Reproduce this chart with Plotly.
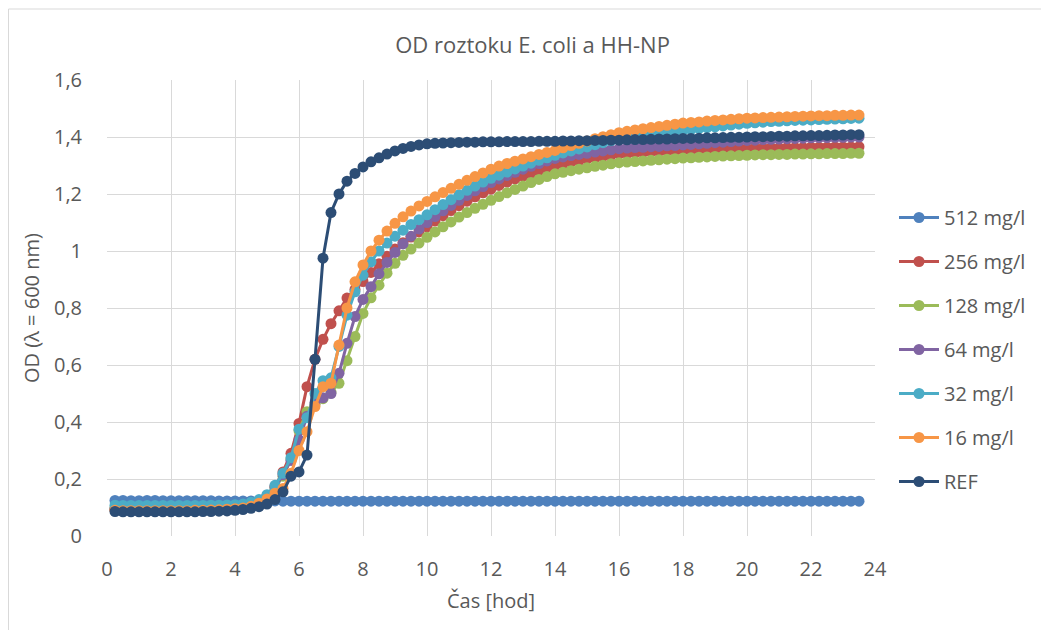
import plotly.graph_objects as go

time_h = [0.25, 0.5, 0.75, 1.0, 1.25, 1.5, 1.75, 2.0, 2.25, 2.5, 2.75, 3.0, 3.25, 3.5, 3.75, 4.0,
          4.25, 4.5, 4.75, 5.0, 5.25, 5.5, 5.75, 6.0, 6.25, 6.5, 6.75, 7.0, 7.25, 7.5, 7.75, 8.0,
          8.25, 8.5, 8.75, 9.0, 9.25, 9.5, 9.75, 10.0, 10.25, 10.5, 10.75, 11.0, 11.25, 11.5, 11.75, 12.0,
          12.25, 12.5, 12.75, 13.0, 13.25, 13.5, 13.75, 14.0, 14.25, 14.5, 14.75, 15.0, 15.25, 15.5, 15.75, 16.0,
          16.25, 16.5, 16.75, 17.0, 17.25, 17.5, 17.75, 18.0, 18.25, 18.5, 18.75, 19.0, 19.25, 19.5, 19.75, 20.0,
          20.25, 20.5, 20.75, 21.0, 21.25, 21.5, 21.75, 22.0, 22.25, 22.5, 22.75, 23.0, 23.25, 23.5]

od_512 = [0.125, 0.125, 0.124, 0.124, 0.125, 0.125, 0.124, 0.124, 0.124, 0.124, 0.124, 0.124, 0.124, 0.123, 0.123, 0.123,
          0.123, 0.123, 0.123, 0.123, 0.123, 0.122, 0.122, 0.122, 0.122, 0.122, 0.122, 0.122, 0.122, 0.122, 0.122, 0.122,
          0.122, 0.122, 0.122, 0.122, 0.122, 0.122, 0.122, 0.122, 0.122, 0.122, 0.122, 0.122, 0.122, 0.122, 0.122, 0.122,
          0.122, 0.122, 0.122, 0.122, 0.122, 0.122, 0.122, 0.122, 0.122, 0.122, 0.122, 0.122, 0.122, 0.122, 0.122, 0.122,
          0.122, 0.122, 0.122, 0.122, 0.122, 0.122, 0.122, 0.122, 0.122, 0.122, 0.122, 0.122, 0.122, 0.122, 0.122, 0.122,
          0.122, 0.122, 0.122, 0.122, 0.122, 0.122, 0.122, 0.122, 0.122, 0.122, 0.122, 0.122, 0.122, 0.122]

od_256 = [0.093, 0.092, 0.092, 0.092, 0.092, 0.092, 0.092, 0.092, 0.092, 0.092, 0.093, 0.093, 0.094, 0.095, 0.096, 0.098,
          0.100, 0.108, 0.122, 0.142, 0.175, 0.225, 0.290, 0.395,
          0.524, 0.620, 0.690, 0.745, 0.790, 0.835, 0.865, 0.893,
          0.925, 0.955, 0.982, 1.007, 1.029, 1.049, 1.067, 1.085,
          1.105, 1.124, 1.142, 1.159, 1.175, 1.190, 1.204, 1.217,
          1.230, 1.242, 1.253, 1.263, 1.273, 1.283, 1.292, 1.300,
          1.306, 1.312, 1.317, 1.322, 1.327, 1.332, 1.336, 1.340,
          1.342, 1.344, 1.346, 1.348, 1.350, 1.351, 1.352, 1.354,
          1.355, 1.356, 1.357, 1.358, 1.358, 1.359, 1.360, 1.360,
          1.361, 1.361, 1.362, 1.362, 1.363, 1.363, 1.363, 1.364,
          1.364, 1.364, 1.365, 1.365, 1.365, 1.366]

od_128 = [0.098, 0.097, 0.097, 0.097, 0.097, 0.097, 0.097, 0.097, 0.097, 0.097, 0.098, 0.098, 0.099, 0.100, 0.101, 0.103,
          0.105, 0.111, 0.122, 0.140, 0.168, 0.210, 0.270, 0.370,
          0.436, 0.462, 0.482, 0.505, 0.536, 0.615, 0.700, 0.781,
          0.836, 0.880, 0.922, 0.957, 0.985, 1.007, 1.028, 1.048,
          1.067, 1.085, 1.102, 1.119, 1.135, 1.150, 1.164, 1.178,
          1.191, 1.204, 1.216, 1.228, 1.240, 1.251, 1.261, 1.271,
          1.276, 1.282, 1.287, 1.292, 1.297, 1.301, 1.306, 1.310,
          1.312, 1.314, 1.316, 1.318, 1.320, 1.322, 1.324, 1.326,
          1.327, 1.329, 1.330, 1.332, 1.333, 1.334, 1.335, 1.336,
          1.337, 1.338, 1.338, 1.339, 1.339, 1.340, 1.340, 1.341,
          1.341, 1.342, 1.342, 1.342, 1.343, 1.343]

od_64 = [0.096, 0.095, 0.095, 0.095, 0.095, 0.095, 0.095, 0.095, 0.095, 0.095, 0.096, 0.096, 0.097, 0.098, 0.099, 0.101,
         0.103, 0.110, 0.122, 0.140, 0.170, 0.215, 0.265, 0.337,
         0.420, 0.468, 0.485, 0.500, 0.571, 0.676, 0.770, 0.830,
         0.875, 0.920, 0.960, 0.995, 1.025, 1.052, 1.077, 1.100,
         1.121, 1.141, 1.160, 1.178, 1.195, 1.211, 1.226, 1.240,
         1.253, 1.265, 1.276, 1.287, 1.297, 1.307, 1.316, 1.325,
         1.330, 1.335, 1.339, 1.343, 1.347, 1.351, 1.355, 1.359,
         1.361, 1.363, 1.364, 1.366, 1.367, 1.369, 1.370, 1.372,
         1.374, 1.376, 1.378, 1.380, 1.382, 1.384, 1.386, 1.388,
         1.389, 1.391, 1.392, 1.393, 1.394, 1.395, 1.396, 1.397,
         1.398, 1.398, 1.399, 1.399, 1.400, 1.400]

od_32 = [0.108, 0.107, 0.107, 0.107, 0.107, 0.107, 0.107, 0.107, 0.107, 0.107, 0.107, 0.107, 0.108, 0.108, 0.109, 0.110,
         0.112, 0.118, 0.128, 0.145, 0.178, 0.220, 0.275, 0.375,
         0.415, 0.500, 0.545, 0.555, 0.665, 0.775, 0.857, 0.915,
         0.962, 1.000, 1.028, 1.052, 1.073, 1.093, 1.110, 1.127,
         1.145, 1.163, 1.180, 1.197, 1.213, 1.228, 1.242, 1.255,
         1.266, 1.277, 1.288, 1.298, 1.308, 1.318, 1.327, 1.336,
         1.344, 1.351, 1.358, 1.365, 1.373, 1.380, 1.387, 1.394,
         1.399, 1.403, 1.407, 1.411, 1.414, 1.418, 1.421, 1.424,
         1.427, 1.430, 1.433, 1.436, 1.439, 1.442, 1.445, 1.448,
         1.450, 1.452, 1.454, 1.455, 1.457, 1.458, 1.459, 1.460,
         1.461, 1.462, 1.463, 1.464, 1.465, 1.466]

od_16 = [0.090, 0.089, 0.089, 0.089, 0.089, 0.089, 0.089, 0.089, 0.089, 0.089, 0.090, 0.090, 0.091, 0.092, 0.094, 0.096,
         0.098, 0.104, 0.115, 0.130, 0.150, 0.167, 0.220, 0.300,
         0.366, 0.454, 0.524, 0.536, 0.670, 0.800, 0.892, 0.951,
         1.000, 1.038, 1.070, 1.097, 1.120, 1.140, 1.158, 1.174,
         1.190, 1.205, 1.220, 1.234, 1.248, 1.261, 1.274, 1.287,
         1.298, 1.307, 1.315, 1.323, 1.331, 1.339, 1.346, 1.353,
         1.362, 1.370, 1.378, 1.386, 1.394, 1.401, 1.408, 1.415,
         1.420, 1.425, 1.429, 1.433, 1.437, 1.441, 1.445, 1.449,
         1.451, 1.453, 1.456, 1.458, 1.460, 1.462, 1.464, 1.466,
         1.467, 1.468, 1.469, 1.470, 1.471, 1.472, 1.473, 1.474,
         1.475, 1.475, 1.476, 1.476, 1.477, 1.477]

od_ref = [0.086, 0.085, 0.085, 0.085, 0.085, 0.085, 0.085, 0.085, 0.085, 0.085, 0.085, 0.086, 0.086, 0.087, 0.088, 0.090,
          0.093, 0.097, 0.103, 0.112, 0.128, 0.155, 0.210, 0.225,
          0.284, 0.620, 0.975, 1.135, 1.200, 1.245, 1.272, 1.295,
          1.313, 1.327, 1.340, 1.351, 1.360, 1.367, 1.372, 1.376,
          1.378, 1.379, 1.380, 1.381, 1.382, 1.382, 1.383, 1.383,
          1.383, 1.384, 1.384, 1.384, 1.384, 1.385, 1.385, 1.385,
          1.386, 1.386, 1.387, 1.387, 1.388, 1.388, 1.389, 1.389,
          1.390, 1.391, 1.391, 1.392, 1.393, 1.393, 1.394, 1.395,
          1.395, 1.396, 1.397, 1.397, 1.398, 1.399, 1.399, 1.400,
          1.401, 1.401, 1.402, 1.403, 1.403, 1.404, 1.404, 1.405,
          1.405, 1.406, 1.407, 1.407, 1.408, 1.408]

series_names = ["512 mg/l", "256 mg/l", "128 mg/l", "64 mg/l", "32 mg/l", "16 mg/l", "REF"]
series_values = [od_512, od_256, od_128, od_64, od_32, od_16, od_ref]
series_colors = ["#4F81BD", "#C0504D", "#9BBB59", "#8064A2", "#4BACC6", "#F79646", "#2C4D75"]

y_tick_vals = [0, 0.2, 0.4, 0.6, 0.8, 1.0, 1.2, 1.4, 1.6]
y_tick_text = ["0", "0,2", "0,4", "0,6", "0,8", "1", "1,2", "1,4", "1,6"]
x_tick_vals = [0, 2, 4, 6, 8, 10, 12, 14, 16, 18, 20, 22, 24]

FONT = "Open Sans"
TXT = "#595959"

# plot area in figure pixels
L, R, T, B = 99, 867, 72, 528
W, H = 1049, 630
PW, PH = R - L, B - T

fig = go.Figure()
for i, (name, vals, col) in enumerate(zip(series_names, series_values, series_colors)):
    fig.add_trace(go.Scatter(
        x=time_h, y=vals, name=name, mode="lines+markers",
        line=dict(color=col, width=3),
        marker=dict(color=col, size=11, line=dict(width=0)),
        legendgroup=f"g{i}",
    ))

fig.update_layout(
    width=W, height=H,
    paper_bgcolor="white", plot_bgcolor="white",
    margin=dict(l=L, r=W - R, t=T, b=H - B, autoexpand=False),
    font=dict(family=FONT, color=TXT, size=20),
    title=dict(text="OD roztoku E. coli a HH-NP", x=0.5, xanchor="center",
               xref="container", yref="container", y=1 - 37 / H, yanchor="middle",
               font=dict(family=FONT, size=22, color=TXT)),
    showlegend=True,
    legend=dict(x=(886 - L) / PW, xanchor="left", y=(B - 190) / PH, yanchor="top",
                font=dict(family=FONT, size=20, color=TXT),
                traceorder="grouped", tracegroupgap=15,
                itemwidth=40, bgcolor="rgba(0,0,0,0)"),
    xaxis=dict(range=[0, 24], tickvals=x_tick_vals, showgrid=True,
               gridcolor="#D9D9D9", gridwidth=1, zeroline=False,
               showline=False, ticks="outside", ticklen=15, tickcolor="rgba(0,0,0,0)",
               tickfont=dict(size=20, color=TXT),
               title=dict(text="Čas [hod]", font=dict(size=20, color=TXT), standoff=12)),
    yaxis=dict(range=[0, 1.6], tickvals=y_tick_vals, ticktext=y_tick_text,
               showgrid=True, gridcolor="#D9D9D9", gridwidth=1, zeroline=False,
               showline=False, ticks="outside", ticklen=20, tickcolor="rgba(0,0,0,0)",
               tickfont=dict(size=20, color=TXT),
               title=dict(text="OD (λ = 600 nm)", font=dict(size=20, color=TXT), standoff=8)),
    shapes=[dict(type="rect", xref="paper", yref="paper",
                 x0=(0.5 - L) / PW, x1=(W + 20 - L) / PW,
                 y0=(B - H - 20) / PH, y1=(B - 1) / PH,
                 line=dict(color="#D9D9D9", width=1), fillcolor="rgba(0,0,0,0)",
                 layer="below")],
)

fig.write_html("out.html")
